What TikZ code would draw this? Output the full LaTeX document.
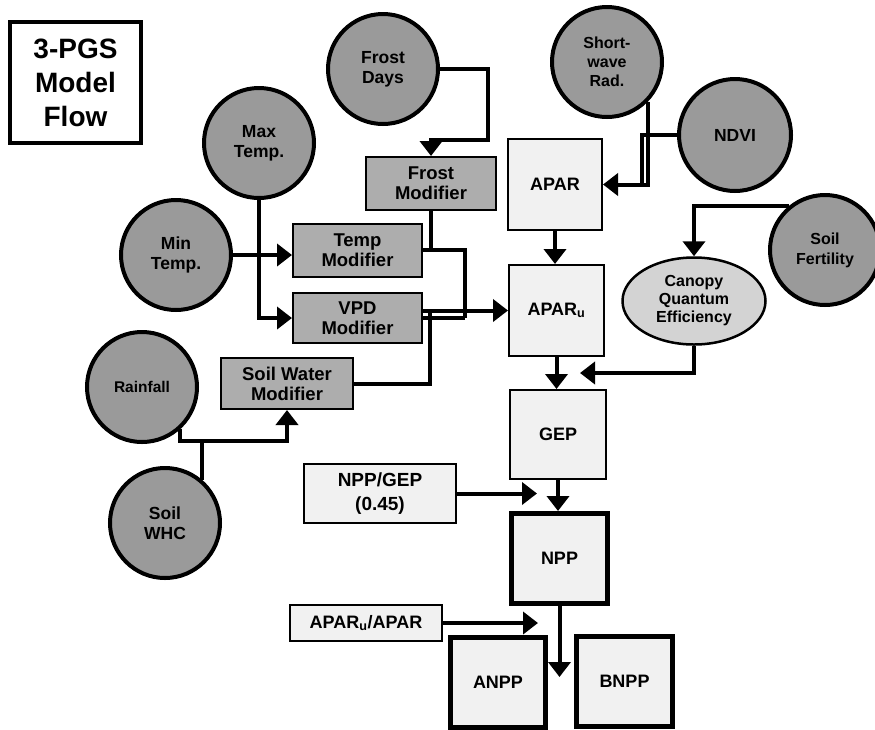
\documentclass[tikz,border=0pt]{standalone}
\usepackage{fontspec}
\setmainfont{Liberation Sans}
\usetikzlibrary{arrows.meta,shapes.geometric}
\definecolor{circfill}{HTML}{9A9A9A}
\definecolor{modfill}{HTML}{ADADAD}
\definecolor{lightfill}{HTML}{F1F1F1}
\definecolor{ellfill}{HTML}{D3D3D3}
\begin{document}
\begin{tikzpicture}[x=1pt,y=-1pt,
  circ/.style={circle, draw, line width=4pt, fill=circfill, minimum size=#1, inner sep=0pt, align=center,
    font=\fontsize{17.5}{20}\selectfont\bfseries},
  circ/.default=110pt,
  modbox/.style={rectangle, draw, line width=2pt, fill=modfill, inner sep=0pt, align=center,
    font=\fontsize{18.5}{20}\selectfont\bfseries},
  lightbox/.style={rectangle, draw, line width=2pt, fill=lightfill, inner sep=0pt, align=center,
    font=\fontsize{18}{24}\selectfont\bfseries},
  heavybox/.style={rectangle, draw, line width=5pt, fill=lightfill, inner sep=0pt, align=center,
    font=\fontsize{18}{22}\selectfont\bfseries},
  conn/.style={line width=4pt},
  arr/.style={line width=4pt, -{Triangle[length=15pt,width=22pt]}}
]
\useasboundingbox (0,0) rectangle (875,729);

% title
\node[rectangle, draw, line width=4.5pt, fill=white, minimum width=131pt, minimum height=121pt, align=center,
  font=\fontsize{28}{34}\selectfont\bfseries] (title) at (75.5,82.5) {3-PGS\\Model\\Flow};

% input circles
\node[circ] (frost) at (383,69) {Frost\\Days};
\node[circ] (maxt) at (259,143) {Max\\Temp.};
\node[circ] (mint) at (176,255) {Min\\Temp.};
\node[circ, font=\fontsize{16}{19}\selectfont\bfseries] (sw) at (607,62) {Short-\\wave\\Rad.};
\node[circ=112pt] (ndvi) at (735,135) {NDVI};
\node[circ, font=\fontsize{16}{20}\selectfont\bfseries] (soilf) at (825,250) {Soil\\Fertility};
\node[circ, font=\fontsize{15.5}{20}\selectfont\bfseries] (rain) at (142,387) {Rainfall};
\node[circ] (whc) at (165,523) {Soil\\WHC};

% modifier boxes
\node[modbox, minimum width=130pt, minimum height=53pt] (frostmod) at (431,183.5) {Frost\\Modifier};
\node[modbox, minimum width=129pt, minimum height=53pt] (tempmod) at (357.5,250.5) {Temp\\Modifier};
\node[modbox, minimum width=129pt, minimum height=50pt] (vpdmod) at (357.5,318) {VPD\\Modifier};
\node[modbox, minimum width=132pt, minimum height=51pt] (swmod) at (287,383.5) {Soil Water\\Modifier};

% process boxes
\node[lightbox, minimum width=94pt, minimum height=91pt] (apar) at (555,184.5) {APAR};
\node[lightbox, minimum width=95pt, minimum height=91pt] (aparu) at (556.5,310.5) {APAR\textsubscript{u}};
\node[lightbox, minimum width=96pt, minimum height=89pt] (gep) at (558,434.5) {GEP};
\node[lightbox, minimum width=152pt, minimum height=59pt, font=\fontsize{19}{24}\selectfont\bfseries] (nppgep) at (380,493.5) {NPP/GEP\\(0.45)};
\node[lightbox, minimum width=152pt, minimum height=36pt] (aparratio) at (366,623) {APAR\textsubscript{u}/APAR};
\node[heavybox, minimum width=96pt, minimum height=90pt] (npp) at (559.5,558.5) {NPP};
\node[heavybox, minimum width=95pt, minimum height=90pt] (anpp) at (498,682) {ANPP};
\node[heavybox, minimum width=96pt, minimum height=90pt] (bnpp) at (624.5,681) {BNPP};
\node[ellipse, draw, line width=2.5pt, fill=ellfill, minimum width=143pt, minimum height=87pt, inner sep=0pt,
  align=center, font=\fontsize{16}{18}\selectfont\bfseries] (canopy) at (694,301) {Canopy\\Quantum\\Efficiency};

% free-end coordinates
\coordinate (j) at (202,441);
\coordinate (cq) at (580,373);
\coordinate (ng) at (537,493.5);
\coordinate (nb) at (559.5,677);
\coordinate (ar) at (538,623);
\coordinate (busTop) at (465,250);
\coordinate (busBot) at (465,318);
\coordinate (swj) at (430,311);
\coordinate (ndj) at (642,184.5);

% connectors
\draw[arr] (frost.east) -| (488,140) -| (frostmod.north);
\draw[conn] (frostmod.south) |- (busTop);
\draw[conn] (tempmod.east |- busTop) -- (busTop) -- (busBot);
\draw[conn] (vpdmod.east) -- (busBot);
\draw[arr] (vpdmod.east |- aparu.west) -- (aparu.west);
\draw[conn] (swmod.east) -| (swj);

\draw[arr] (mint.east) -- (tempmod.west |- mint.east);
\draw[arr] (maxt.south) |- (vpdmod.west);

\draw[arr] (rain.-48) |- (j) -| (swmod.south);
\draw[conn] (whc.49) -- (whc.49 |- j);

\draw[arr] (sw.-44) |- (apar.east);
\draw[conn] (ndvi.west) -| (ndj);

\draw[arr] (apar.south) -- (apar.south |- aparu.north);
\draw[arr] (aparu.south) -- (aparu.south |- gep.north);
\draw[arr] (canopy.south) |- (cq);
\draw[arr] (soilf.129) -| (canopy.north);
\draw[arr] (gep.south) -- (gep.south |- npp.north);
\draw[arr] (nppgep.east) -- (ng);
\draw[arr] (npp.south) -- (nb);
\draw[arr] (aparratio.east) -- (ar);
\end{tikzpicture}
\end{document}
